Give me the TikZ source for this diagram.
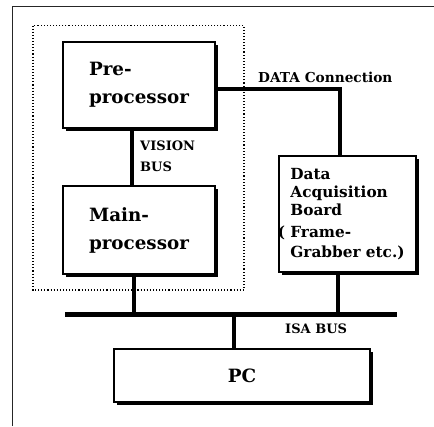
\documentclass[tikz,border=0pt]{standalone}
\usepackage{fontspec}
\setmainfont{DejaVu Serif}
\usetikzlibrary{shadows}
\tikzset{
  unitbox/.style={draw, line width=2.3pt, fill=white, inner sep=0pt,
    drop shadow={shadow xshift=3.4pt, shadow yshift=-3.4pt, fill=black, opacity=1}},
  bigtext/.style={font=\fontsize{18.3}{28}\selectfont\bfseries},
  dabtext/.style={font=\fontsize{15.3}{18}\selectfont\bfseries},
  smalltext/.style={font=\fontsize{13}{21}\selectfont\bfseries, inner sep=0pt},
  wire/.style={line width=4pt},
  bus/.style={line width=5pt},
  groupline/.style={line width=1.2pt, dash pattern=on 1.1pt off 2pt},
  frame/.style={line width=1.4pt, black!85},
}
\begin{document}
\begin{tikzpicture}[x=1pt, y=-1pt]
\useasboundingbox (0,0) rectangle (434,426);

% page frame
\draw[frame] (12.5,426) -- (12.5,6.5) -- (434,6.5);

% dotted outline of the vision subsystem
\draw[groupline] (33,25.5) rectangle (244,290);

% units
\node[unitbox, bigtext, align=left, minimum width=152pt, minimum height=86pt]
  (pre) at (139,85) {Pre-\\processor};
\node[unitbox, bigtext, align=left, minimum width=152pt, minimum height=88pt]
  (main) at (139,230) {Main-\\processor};
\node[unitbox, dabtext, align=left, minimum width=137pt, minimum height=116pt]
  (dab) at (347.5,214) {Data\\Acquisition\\Board\\[4pt]\llap{( }Frame-\\[2pt]Grabber etc.)};
\node[unitbox, bigtext, minimum width=256pt, minimum height=53pt]
  (pc) at (242,375.5) {PC};

% connector positions
\coordinate (vb) at (132,0);
\coordinate (dc) at (340,89);
\coordinate (busL) at (65,314);
\coordinate (busR) at (397,314);
\coordinate (mb) at (134,314);
\coordinate (db) at (338,314);
\coordinate (pb) at (234,314);

% connectors
\draw[wire] (pre.south -| vb) -- (main.north -| vb);
\draw[wire] (pre.east |- dc) -- (dc) -- (dab.north -| dc);
\draw[bus] (busL) -- (busR);
\draw[wire] (main.south -| mb) -- (mb);
\draw[wire] (dab.south -| db) -- (db);
\draw[wire] (pb) -- (pc.north -| pb);

% labels
\node[smalltext, align=left, anchor=north west] (vislabel) at (140,141) {VISION\\BUS};
\node[smalltext, font=\fontsize{13.7}{21}\selectfont\bfseries, anchor=base west]
  (datalabel) at (258,82) {DATA Connection};
\node[smalltext, anchor=base west] (isalabel) at (285,333) {ISA BUS};
\end{tikzpicture}
\end{document}
